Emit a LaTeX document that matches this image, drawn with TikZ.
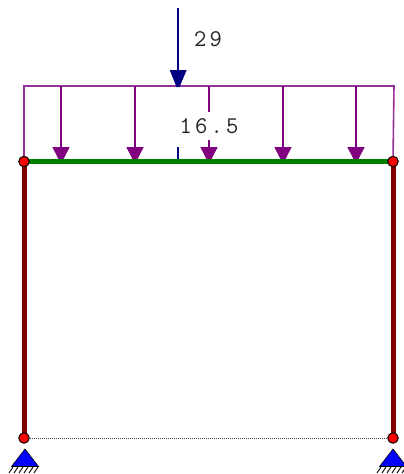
\documentclass[tikz,border=0pt]{standalone}
\usepackage{fontspec}
\newfontfamily\valfont[LetterSpace=13]{Latin Modern Mono}
\definecolor{loadc}{RGB}{128,0,128}
\definecolor{loadl}{RGB}{150,50,150}
\definecolor{forcec}{RGB}{0,0,128}
\definecolor{beamc}{RGB}{0,128,0}
\definecolor{colc}{RGB}{128,0,0}
\tikzset{
  joint/.style={circle,draw=black,fill=red,line width=1pt,minimum size=10.5pt,inner sep=0pt},
  column/.style={draw=colc,line width=5pt},
  beam/.style={draw=beamc,line width=5pt},
  tie/.style={draw=black!70,line width=1pt,densely dotted},
  loadframe/.style={draw=loadl,line width=1.6pt},
  loadarrow/.style={draw=loadc,line width=2.4pt},
  loadhead/.style={fill=loadc},
  forceline/.style={draw=forcec,line width=2.6pt},
  stubline/.style={draw=forcec,line width=1.4pt},
  forcehead/.style={fill=forcec},
  valuefont/.style={font=\fontsize{24}{24}\valfont,text=black!85},
  support/.style={fill=blue,draw=black,line width=0.6pt},
  hatch/.style={draw=black,line width=0.9pt}
}
\begin{document}
\begin{tikzpicture}[x=1pt,y=-1pt]
\path[use as bounding box] (0,0) rectangle (404,474);
\clip (0,0) rectangle (404,474);
\coordinate (TL) at (24,161.5);
\coordinate (TR) at (393,161.5);
\coordinate (BL) at (24,438);
\coordinate (BR) at (393,438);
\coordinate (LT) at (24,86);
\coordinate (RT) at (394,86);
% load frame
\draw[loadframe] (TL) -- (LT) -- (RT) -- (TR);
% point force coordinates
\coordinate (F0) at (178,8);
\coordinate (F1) at (178,72);
\coordinate (F3) at (178,147);
\coordinate (F4) at (178,161);
% distributed arrows
\foreach \n/\x in {a/61,b/135,c/209,d/283,e/356}{
  \coordinate (\n0) at (\x,86);
  \coordinate (\n1) at (\x,150);
  \draw[loadarrow] (\n0) -- (\n1);
}
% label
\fill[white] (172,112) rectangle (240,140);
\node[valuefont,inner sep=0pt] (q) at (209,126) {16.5};
\node[valuefont,inner sep=0pt] (p) at (208,39.5) {29};
\draw[stubline] (F3) -- (F4);
\foreach \n/\x in {a/61,b/135,c/209,d/283,e/356}{
  \fill[loadhead] (\x-8.7,147) -- (\x+8.7,147) -- (\x+1.5,161) -- (\x-1.5,161) -- cycle;
}
% point force
\draw[forceline] (F0) -- (F1);
\fill[forcehead] (169.7,70) -- (186.7,70) -- (179.5,87) -- (176.5,87) -- cycle;
% members
\draw[tie] (BL) -- (BR);
\draw[column] (TL) -- (BL);
\draw[column] (TR) -- (BR);
\draw[beam] (TL) -- (TR);
% supports
\foreach \n/\x in {L/25,R/393}{
  \draw[support] (\x,449) -- (\x+13.5,466.5) -- (\x-13.5,466.5) -- cycle;
  \foreach \k in {-12,-7,...,13}{
    \draw[hatch] (\x+\k,467) -- (\x+\k-4,473);
  }
}
% joints
\node[joint] (J1) at (TL) {};
\node[joint] (J2) at (TR) {};
\node[joint] (J3) at (BL) {};
\node[joint] (J4) at (BR) {};
\end{tikzpicture}
\end{document}
